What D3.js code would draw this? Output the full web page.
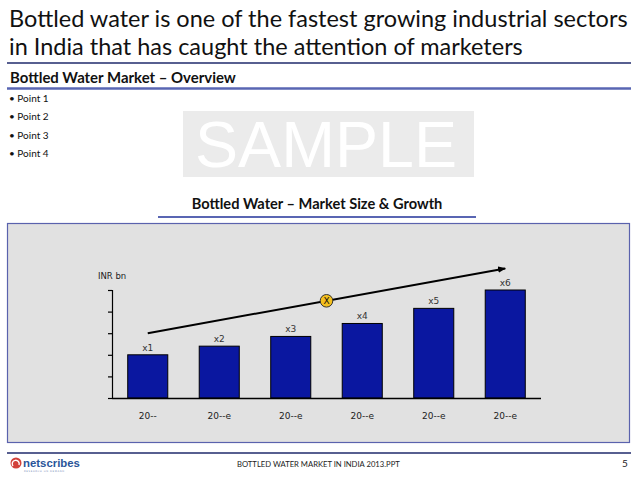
<!DOCTYPE html>
<html>
<head>
<meta charset="utf-8">
<script src="https://cdn.jsdelivr.net/npm/d3@7"></script>
<style>
  html, body { margin: 0; padding: 0; background: #fff; }
  svg { display: block; }
</style>
</head>
<body>
<svg id="chart" width="638" height="479"></svg>
<script>
// ---- data ----
const categories = ["20--", "20--e", "20--e", "20--e", "20--e", "20--e"];
const values = [2.0, 2.4, 2.85, 3.45, 4.15, 5.0];
const barLabels = ["x1", "x2", "x3", "x4", "x5", "x6"];
const yTicks = [0, 1, 2, 3, 4, 5];
const trendValues = [3.0, 6.0];          // trend arrow start (first bar) / end (last bar)
const cagrLabel = "X";
const titleLines = ["Bottled water is one of the fastest growing industrial sectors",
                    "in India that has caught the attention of marketers"];
const points = ["Point 1", "Point 2", "Point 3", "Point 4"];

const svg = d3.select("#chart");
const calibri = "Lato, 'Open Sans', sans-serif";
const navy = "#1f2a6b";
const blue2 = "#5966b3";

// ---- helper to fit text width ----
function fit(sel, targetW) {
  const w = sel.node().getComputedTextLength();
  const fs = parseFloat(sel.attr("font-size"));
  sel.attr("font-size", fs * targetW / w);
}

// ---- title ----
titleLines.forEach((t, i) => {
  const s = svg.append("text").attr("x", 9).attr("y", 27 + i * 28)
    .attr("font-family", calibri).attr("font-size", 22).attr("fill", "#111").text(t);
  fit(s, i === 0 ? 619 : 514);
});
svg.append("line").attr("x1", 7).attr("x2", 631).attr("y1", 63).attr("y2", 63)
  .attr("stroke", navy).attr("stroke-width", 1.5);

// section heading
const sh = svg.append("text").attr("x", 10).attr("y", 83)
  .attr("font-family", calibri).attr("font-weight", "bold").attr("font-size", 12)
  .attr("fill", "#111").text("Bottled Water Market \u2013 Overview");
fit(sh, 226);
svg.append("line").attr("x1", 7).attr("x2", 631).attr("y1", 88.5).attr("y2", 88.5)
  .attr("stroke", blue2).attr("stroke-width", 2.5);

// bullet points
points.forEach((p, i) => {
  svg.append("text").attr("x", 9).attr("y", 102 + i * 18.3)
    .attr("font-family", calibri).attr("font-size", 10).attr("fill", "#111")
    .text("\u2022 " + p);
});

// SAMPLE box
svg.append("rect").attr("x", 183).attr("y", 111).attr("width", 291).attr("height", 66)
  .attr("fill", "#ebebeb");
const samp = svg.append("text").attr("x", 195).attr("y", 167)
  .attr("font-family", "'Liberation Sans', Arial, sans-serif").attr("font-size", 65)
  .attr("fill", "#ffffff").text("SAMPLE");
fit(samp, 262);

// chart heading
const ch = svg.append("text").attr("x", 317).attr("y", 209).attr("text-anchor", "middle")
  .attr("font-family", calibri).attr("font-weight", "bold").attr("font-size", 12)
  .attr("fill", "#111").text("Bottled Water \u2013 Market Size & Growth");
fit(ch, 251);
svg.append("line").attr("x1", 158).attr("x2", 476).attr("y1", 217).attr("y2", 217)
  .attr("stroke", blue2).attr("stroke-width", 2);

// panel
svg.append("rect").attr("x", 7.5).attr("y", 223.5).attr("width", 622).attr("height", 219)
  .attr("fill", "#e1e1e1").attr("stroke", "#5a62ad").attr("stroke-width", 1.2);

// ---- chart ----
const x = d3.scaleBand().domain(d3.range(categories.length)).range([112, 541])
  .paddingInner(0.44).paddingOuter(0.22);
const y = d3.scaleLinear().domain([0, 5]).range([398, 290]);
const chartFont = "'DejaVu Sans', Verdana, sans-serif";

// y axis
const yAxis = d3.axisLeft(y).tickValues(yTicks).tickSize(4).tickFormat("");
const gy = svg.append("g").attr("transform", "translate(112,0)").call(yAxis);
gy.select(".domain").attr("stroke", "#000").attr("stroke-width", 1.2).attr("d", "M-4,290.5H0.5V398.5");
gy.selectAll(".tick line").attr("stroke", "#000").attr("stroke-width", 1.2);

// bars
svg.append("g").selectAll("rect").data(values).join("rect")
  .attr("x", (d, i) => x(i)).attr("width", x.bandwidth())
  .attr("y", d => y(d)).attr("height", d => y(0) - y(d))
  .attr("fill", "#0a17a0").attr("stroke", "#000").attr("stroke-width", 1);

// x axis
const xAxis = d3.axisBottom(x).tickSize(0).tickFormat(i => categories[i]);
const gx = svg.append("g").attr("transform", "translate(0,398)").call(xAxis);
gx.select(".domain").attr("stroke", "#000").attr("stroke-width", 1.5).attr("d", "M112,0.5H541");
gx.selectAll(".tick text").attr("dy", 0).attr("y", 21)
  .attr("font-family", chartFont).attr("font-size", 9).attr("fill", "#222");

// bar labels
svg.append("g").selectAll("text").data(values).join("text")
  .attr("x", (d, i) => x(i) + x.bandwidth() / 2).attr("y", d => y(d) - 4)
  .attr("text-anchor", "middle").attr("font-family", chartFont).attr("font-size", 9)
  .attr("fill", "#333").text((d, i) => barLabels[i]);

// unit label
svg.append("text").attr("x", 98).attr("y", 279).attr("font-family", chartFont)
  .attr("font-size", 8.5).attr("fill", "#222").text("INR bn");

// trend arrow
svg.append("defs").append("marker").attr("id", "arr").attr("viewBox", "0 0 10 10")
  .attr("refX", 9).attr("refY", 5).attr("markerWidth", 4).attr("markerHeight", 4)
  .attr("orient", "auto").attr("markerUnits", "strokeWidth")
  .append("path").attr("d", "M0,1L10,5L0,9Z").attr("fill", "#000");
const n = categories.length;
const x0 = x(0) + x.bandwidth() / 2, x1 = x(n - 1) + x.bandwidth() / 2;
svg.append("line").attr("x1", x0).attr("y1", y(trendValues[0]))
  .attr("x2", x1).attr("y2", y(trendValues[1]))
  .attr("stroke", "#000").attr("stroke-width", 2).attr("marker-end", "url(#arr)");

// CAGR marker
const cx = (x0 + x1) / 2, cy = y((trendValues[0] + trendValues[1]) / 2);
svg.append("circle").attr("cx", cx).attr("cy", cy).attr("r", 6.3)
  .attr("fill", "#f4c01e").attr("stroke", "#333").attr("stroke-width", 1);
svg.append("text").attr("x", cx).attr("y", cy + 3.3).attr("text-anchor", "middle")
  .attr("font-family", chartFont).attr("font-size", 9).attr("fill", "#111").text(cagrLabel);

// ---- footer ----
svg.append("line").attr("x1", 7).attr("x2", 631).attr("y1", 453).attr("y2", 453)
  .attr("stroke", navy).attr("stroke-width", 1.5);
const ft = svg.append("text").attr("x", 237).attr("y", 467)
  .attr("font-family", calibri).attr("font-size", 7.5).attr("fill", "#222")
  .text("BOTTLED WATER MARKET IN INDIA 2013.PPT");
fit(ft, 163);
svg.append("text").attr("x", 622).attr("y", 467).attr("font-family", calibri)
  .attr("font-size", 10).attr("fill", "#222").text("5");

// logo
const logo = svg.append("g");
logo.append("circle").attr("cx", 16).attr("cy", 463).attr("r", 5.5).attr("fill", "#d2413a");
logo.append("path").attr("d", "M13,466 A3.5,3.5 0 1 1 19,465").attr("fill", "none")
  .attr("stroke", "#fff").attr("stroke-width", 1.4);
const lt = logo.append("text").attr("x", 23).attr("y", 467).attr("font-family", "'Liberation Sans', Arial, sans-serif")
  .attr("font-weight", "bold").attr("font-size", 12).attr("fill", "#2a5599").text("netscribes");
fit(lt, 57);
logo.append("text").attr("x", 24).attr("y", 472).attr("font-family", "'DejaVu Sans', sans-serif")
  .attr("font-size", 2.5).attr("fill", "#7a8fb8").attr("letter-spacing", 0.6)
  .text("RESEARCH ON DEMAND");
</script>
</body>
</html>
